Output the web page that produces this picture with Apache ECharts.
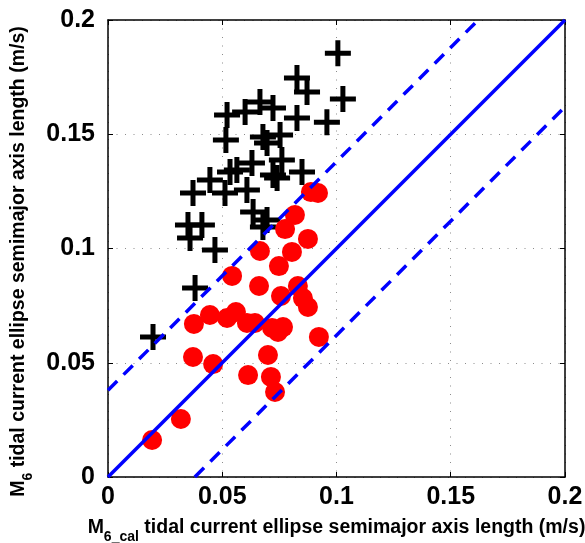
<!DOCTYPE html>
<html>
<head>
<meta charset="utf-8">
<script src="https://cdn.jsdelivr.net/npm/echarts@6/dist/echarts.min.js"></script>
<style>
  html, body { margin: 0; padding: 0; background: #fff; }
  #chart { width: 585px; height: 543px; }
</style>
</head>
<body>
<div id="chart"></div>
<script>
  // observed M6 (black crosses, outside the band)
  const crossX = [0.1006, 0.1028, 0.0827, 0.0871, 0.0958, 0.0827, 0.0722, 0.0665, 0.0600, 0.0521,
                  0.0516, 0.0678, 0.0753, 0.0696, 0.0564, 0.0630, 0.0534, 0.0761, 0.0722, 0.0740,
                  0.0849, 0.0446, 0.0372, 0.0512, 0.0608, 0.0635, 0.0696, 0.0678, 0.0350, 0.0411,
                  0.0359, 0.0468, 0.0381, 0.0197]
  const crossY = [0.1855, 0.1654, 0.1746, 0.1685, 0.1553, 0.1571, 0.1615, 0.1641, 0.1597, 0.1584,
                  0.1475, 0.1488, 0.1497, 0.1462, 0.1343, 0.1374, 0.1335, 0.1387, 0.1322, 0.1308,
                  0.1335, 0.1300, 0.1243, 0.1243, 0.1256, 0.1160, 0.1125, 0.1094, 0.1103, 0.1103,
                  0.1046, 0.0993, 0.0827, 0.0613]

  // observed M6 (red circles, inside the band)
  const dotX = [0.0193, 0.0319, 0.0372, 0.0460, 0.0376, 0.0446, 0.0521, 0.0560, 0.0608, 0.0643,
                0.0718, 0.0766, 0.0744, 0.0923, 0.0700, 0.0613, 0.0713, 0.0731, 0.0543, 0.0661,
                0.0831, 0.0853, 0.0875, 0.0757, 0.0748, 0.0665, 0.0805, 0.0875, 0.0775, 0.0818,
                0.0888, 0.0919]
  const dotY = [0.0162, 0.0254, 0.0525, 0.0494, 0.0670, 0.0709, 0.0696, 0.0722, 0.0674, 0.0674,
                0.0652, 0.0656, 0.0635, 0.0613, 0.0534, 0.0446, 0.0438, 0.0372, 0.0880, 0.0836,
                0.0836, 0.0783, 0.0744, 0.0792, 0.0923, 0.0989, 0.0985, 0.1042, 0.1085, 0.1147,
                0.1247, 0.1243]

  // 1:1 line and +/- band
  const axisMin = 0
  const axisMax = 0.2
  const tickStep = 0.05
  const band = 0.038

  const font = '"Liberation Sans", Arial, sans-serif'
  const crossPath = 'path://M10.5,0H15.5V10.5H26V15.5H15.5V26H10.5V15.5H0V10.5H10.5Z'

  const pair = (xs, ys) => xs.map((x, i) => [x, ys[i]])

  const titleRich = {
    m: { fontSize: 19.5, fontWeight: 'bold', fontFamily: font, color: '#000', lineHeight: 19, verticalAlign: 'top' },
    s: { fontSize: 14, fontWeight: 'bold', fontFamily: font, color: '#000', lineHeight: 14, verticalAlign: 'top', padding: [12, 0, 0, 0] }
  }

  const tickFont = { show: true, fontSize: 25, fontWeight: 'bold', fontFamily: font, color: '#000' }

  const frameAxis = {
    type: 'value',
    min: axisMin,
    max: axisMax,
    interval: tickStep,
    axisLine: { show: true, onZero: false, lineStyle: { color: '#000', width: 1.5 } },
    axisTick: { show: true, inside: true, length: 5, lineStyle: { color: '#000', width: 1 } },
    axisLabel: { show: false },
    splitLine: { show: false }
  }

  const mainAxis = (extra) => Object.assign({}, frameAxis, {
    splitLine: { show: true, lineStyle: { color: '#8c8c8c', width: 1, type: [1, 7.5] } }
  }, extra)

  const chart = echarts.init(document.getElementById('chart'))

  chart.setOption({
    animation: false,
    backgroundColor: '#fff',
    grid: { left: 108, right: 20, top: 20, bottom: 66, outerBoundsMode: 'none', containLabel: false },
    xAxis: [
      mainAxis({
        position: 'bottom',
        axisLabel: Object.assign({}, tickFont, { margin: 8 }),
        name: '{m|M}{s|6_cal}{m| tidal current ellipse semimajor axis length (m/s)}',
        nameLocation: 'middle',
        nameGap: 41,
        nameTextStyle: { rich: titleRich, padding: [0, 0, 0, 0] }
      }),
      Object.assign({}, frameAxis, { position: 'top' })
    ],
    yAxis: [
      mainAxis({
        position: 'left',
        axisLabel: Object.assign({}, tickFont, { margin: 13 }),
        name: '{m|M}{s|6}{m| tidal current ellipse semimajor axis length (m/s)}',
        nameLocation: 'middle',
        nameGap: 80,
        nameTextStyle: { rich: titleRich, padding: [0, 26, 0, 0] }
      }),
      Object.assign({}, frameAxis, { position: 'right' })
    ],
    series: [
      {
        type: 'scatter',
        data: pair(crossX, crossY),
        symbol: crossPath,
        symbolSize: 26,
        itemStyle: { color: '#000', opacity: 1 },
        z: 2
      },
      {
        type: 'scatter',
        data: pair(dotX, dotY),
        symbol: 'circle',
        symbolSize: 20,
        itemStyle: { color: '#ff0000', opacity: 1 },
        z: 3
      },
      {
        type: 'line',
        data: [[axisMin, axisMin], [axisMax, axisMax]],
        symbol: 'none',
        lineStyle: { color: '#0000ff', width: 3.5 },
        z: 4
      },
      {
        type: 'line',
        data: [[axisMin, axisMin + band], [axisMax - band, axisMax]],
        symbol: 'none',
        lineStyle: { color: '#0000ff', width: 3.5, type: [13, 9] },
        z: 4
      },
      {
        type: 'line',
        data: [[axisMin + band, axisMin], [axisMax, axisMax - band]],
        symbol: 'none',
        lineStyle: { color: '#0000ff', width: 3.5, type: [13, 9] },
        z: 4
      }
    ]
  })
</script>
</body>
</html>
